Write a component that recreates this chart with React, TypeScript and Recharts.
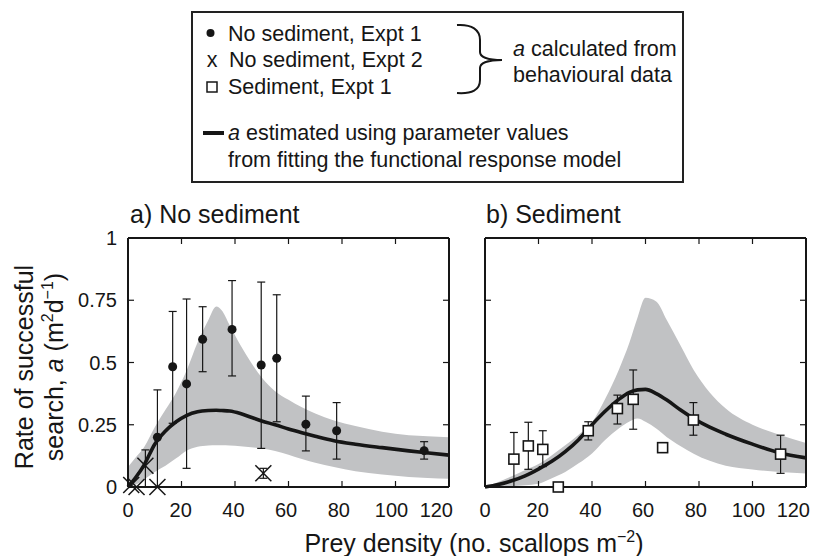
import React from "react";
import { ComposedChart, Area, Line, Scatter, ErrorBar, XAxis, YAxis } from "recharts";

const FONT = "'Liberation Sans', Arial, Helvetica, sans-serif";
const INK = "#161616";
const BAND = "#c1c2c4";

const X_TICKS = [0, 20, 40, 60, 80, 100, 120];
const Y_TICKS = [0, 0.25, 0.5, 0.75, 1];

// a) no sediment, expt 1 (filled circles)
const exp1X = [11, 16.7, 21.9, 27.9, 38.9, 49.8, 55.6, 66.5, 78, 110.7];
const exp1Y = [0.2, 0.483, 0.414, 0.593, 0.633, 0.49, 0.517, 0.252, 0.226, 0.146];
const exp1Lo = [0, 0.256, 0.075, 0.463, 0.446, 0.155, 0.262, 0.145, 0.112, 0.112];
const exp1Hi = [0.39, 0.705, 0.755, 0.724, 0.829, 0.823, 0.772, 0.365, 0.339, 0.182];

// a) no sediment, expt 2 (crosses)
const exp2X = [1.2, 3.2, 6.5, 11, 50.6];
const exp2Y = [0.008, 0, 0.085, 0, 0.055];
const exp2Lo = [null, null, 0, null, 0.035];
const exp2Hi = [null, null, 0.149, null, 0.075];

// b) sediment, expt 1 (open squares)
const sedX = [10.8, 16.2, 21.6, 27.4, 38.6, 49.5, 55.4, 66.4, 77.9, 110.5];
const sedY = [0.112, 0.165, 0.151, 0, 0.226, 0.315, 0.352, 0.158, 0.269, 0.132];
const sedLo = [0, 0.071, 0.082, null, 0.189, 0.253, 0.232, 0.15, 0.208, 0.055];
const sedHi = [0.219, 0.26, 0.226, null, 0.262, 0.369, 0.47, 0.178, 0.339, 0.208];

// fitted curve + envelope, panel a
const fitAX = [0, 3, 6, 10, 14, 18, 22, 26, 30, 33, 35, 38, 42, 46, 50, 55, 60, 65, 70, 77, 85, 95, 105, 112, 120];
const fitAY = [0, 0.04, 0.088, 0.172, 0.225, 0.262, 0.288, 0.302, 0.307, 0.308, 0.307, 0.305, 0.295, 0.28, 0.265, 0.25, 0.233, 0.218, 0.204, 0.186, 0.172, 0.158, 0.145, 0.137, 0.128];
const bandALo = [0, 0.01, 0.03, 0.06, 0.085, 0.115, 0.147, 0.162, 0.167, 0.168, 0.168, 0.167, 0.164, 0.16, 0.155, 0.145, 0.13, 0.112, 0.097, 0.08, 0.063, 0.05, 0.04, 0.036, 0.033];
const bandAHi = [0.08, 0.12, 0.16, 0.24, 0.31, 0.38, 0.47, 0.58, 0.67, 0.725, 0.71, 0.65, 0.57, 0.5, 0.44, 0.385, 0.35, 0.32, 0.295, 0.267, 0.245, 0.222, 0.208, 0.204, 0.2];

// fitted curve + envelope, panel b
const fitBX = [0, 5, 10, 15, 20, 25, 30, 35, 40, 45, 50, 54, 57, 60, 64, 68, 73, 78, 84, 90, 100, 110, 120];
const fitBY = [0, 0.01, 0.025, 0.045, 0.072, 0.103, 0.142, 0.19, 0.25, 0.305, 0.352, 0.38, 0.39, 0.392, 0.375, 0.349, 0.31, 0.275, 0.24, 0.212, 0.172, 0.138, 0.117];
const bandBLo = [0, 0.001, 0.003, 0.007, 0.013, 0.035, 0.06, 0.095, 0.135, 0.19, 0.235, 0.263, 0.275, 0.262, 0.235, 0.2, 0.165, 0.134, 0.105, 0.085, 0.07, 0.06, 0.054];
const bandBHi = [0, 0.02, 0.043, 0.068, 0.092, 0.128, 0.168, 0.21, 0.26, 0.355, 0.47, 0.58, 0.68, 0.76, 0.745, 0.67, 0.57, 0.47, 0.38, 0.315, 0.25, 0.21, 0.177];

type Num = number | null;

const pointRows = (xs: number[], ys: number[], lo: Num[], hi: Num[]) =>
  xs.map((x, i) => ({
    x,
    y: ys[i],
    err: lo[i] == null || hi[i] == null ? null : [ys[i] - (lo[i] as number), (hi[i] as number) - ys[i]],
  }));

const curveRows = (xs: number[], ys: number[]) => xs.map((x, i) => ({ x, y: ys[i] }));
const bandRows = (xs: number[], lo: number[], hi: number[]) => xs.map((x, i) => ({ x, range: [lo[i], hi[i]] }));

const Dot = ({ cx, cy }: any) => <circle cx={cx} cy={cy} r={4.5} fill={INK} />;
const Box = ({ cx, cy }: any) => (
  <rect x={cx - 5} y={cy - 5} width={10} height={10} fill="#fff" stroke={INK} strokeWidth={1.6} />
);
const Cross = ({ cx, cy }: any) => (
  <g stroke={INK} strokeWidth={1.5}>
    <line x1={cx - 8} y1={cy - 8} x2={cx + 8} y2={cy + 8} />
    <line x1={cx - 8} y1={cy + 8} x2={cx + 8} y2={cy - 8} />
  </g>
);

const TICK_LEN = 6;
const tickText = { fontFamily: FONT, fontSize: 20, fill: INK };

// the original squeezes the labels slightly left, the last one right-aligned
const bottomTick = (props: any) => {
  const v = props.payload.value;
  const last = v === 120;
  return (
    <g>
      <line x1={props.x} y1={props.y} x2={props.x} y2={props.y - TICK_LEN} stroke={INK} strokeWidth={1.2} />
      <text x={last ? props.x + 4 : props.x - v / 25} y={props.y + 30} textAnchor={last ? "end" : "middle"} {...tickText}>
        {v}
      </text>
    </g>
  );
};
const topTick = (props: any) => (
  <line x1={props.x} y1={props.y} x2={props.x} y2={props.y + TICK_LEN} stroke={INK} strokeWidth={1.2} />
);
const leftTick = (labels: boolean) => (props: any) => (
  <g>
    <line x1={props.x} y1={props.y} x2={props.x + TICK_LEN} y2={props.y} stroke={INK} strokeWidth={1.2} />
    {labels && (
      <text x={props.x - 11} y={props.y + 7} textAnchor="end" {...tickText}>
        {String(props.payload.value)}
      </text>
    )}
  </g>
);
const rightTick = (props: any) => (
  <line x1={props.x} y1={props.y} x2={props.x - TICK_LEN} y2={props.y} stroke={INK} strokeWidth={1.2} />
);

const frame = { stroke: INK, strokeWidth: 2 };

function Panel({
  width,
  margin,
  leftWidth,
  band,
  fit,
  points,
  shape,
  extra,
  yLabels,
}: {
  width: number;
  margin: { top: number; right: number; bottom: number; left: number };
  leftWidth: number;
  band: any[];
  fit: any[];
  points: any[];
  shape: any;
  extra?: any[];
  yLabels: boolean;
}) {
  return (
    <ComposedChart width={width} height={356} margin={margin}>
      <XAxis dataKey="x" type="number" domain={[0, 120]} ticks={X_TICKS} interval={0} height={30}
        tickSize={0} tickMargin={0} tickLine={false} axisLine={frame} tick={bottomTick} />
      <XAxis xAxisId="top" orientation="top" dataKey="x" type="number" domain={[0, 120]} ticks={X_TICKS}
        interval={0} height={8} tickSize={0} tickMargin={0} tickLine={false} axisLine={frame} tick={topTick} />
      <YAxis type="number" domain={[0, 1]} ticks={Y_TICKS} interval={0} width={leftWidth}
        tickSize={0} tickMargin={0} tickLine={false} axisLine={frame} tick={leftTick(yLabels)} />
      <YAxis yAxisId="right" orientation="right" type="number" domain={[0, 1]} ticks={Y_TICKS} interval={0}
        width={4} tickSize={0} tickMargin={0} tickLine={false} axisLine={frame} tick={rightTick} />
      <Area data={band} dataKey="range" type="monotone" stroke="none" fill={BAND} fillOpacity={1}
        xAxisId="top" isAnimationActive={false} />
      <Line data={fit} dataKey="y" type="monotone" stroke={INK} strokeWidth={3.6} dot={false}
        yAxisId="right" isAnimationActive={false} />
      {extra && (
        <Scatter data={extra} dataKey="y" shape={Cross} isAnimationActive={false}>
          <ErrorBar dataKey="err" direction="y" width={4} stroke={INK} strokeWidth={1.2} isAnimationActive={false} />
        </Scatter>
      )}
      <Scatter data={points} dataKey="y" shape={shape} isAnimationActive={false}>
        <ErrorBar dataKey="err" direction="y" width={4} stroke={INK} strokeWidth={1.2} isAnimationActive={false} />
      </Scatter>
    </ComposedChart>
  );
}

const label = { fontFamily: FONT, fontSize: 25, fill: INK };
const legendText = { fontFamily: FONT, fontSize: 21.5, fill: INK };

export default function App() {
  return (
    <div style={{ position: "absolute", left: 0, top: 0, width: 815, height: 556, background: "#fff" }}>
      <div style={{ position: "absolute", left: 0, top: 200 }}>
        <Panel
          width={475}
          margin={{ top: 30, right: 22, bottom: 39, left: 68 }}
          leftWidth={60}
          band={bandRows(fitAX, bandALo, bandAHi)}
          fit={curveRows(fitAX, fitAY)}
          points={pointRows(exp1X, exp1Y, exp1Lo, exp1Hi)}
          extra={pointRows(exp2X, exp2Y, exp2Lo, exp2Hi)}
          shape={Dot}
          yLabels
        />
      </div>
      <div style={{ position: "absolute", left: 460, top: 200 }}>
        <Panel
          width={355}
          margin={{ top: 30, right: 5, bottom: 39, left: 15 }}
          leftWidth={10}
          band={bandRows(fitBX, bandBLo, bandBHi)}
          fit={curveRows(fitBX, fitBY)}
          points={pointRows(sedX, sedY, sedLo, sedHi)}
          shape={Box}
          yLabels={false}
        />
      </div>
      <svg width={815} height={556} style={{ position: "absolute", left: 0, top: 0, pointerEvents: "none" }}>
        {/* legend */}
        <rect x={192} y={12} width={491} height={170} fill="none" stroke="#222" strokeWidth={2} />
        <circle cx={210.5} cy={33} r={4} fill={INK} />
        <text x={228} y={41} {...legendText}>No sediment, Expt 1</text>
        <text x={212} y={67} textAnchor="middle" {...legendText}>x</text>
        <text x={229} y={67} {...legendText}>No sediment, Expt 2</text>
        <rect x={207} y={82} width={10} height={10} fill="#fff" stroke={INK} strokeWidth={1.5} />
        <text x={228} y={94} {...legendText}>Sediment, Expt 1</text>
        <path d="M457,25 C472,24 480,30 480,40 L480,52 C480,57 488,60 502,60 C488,60 480,63 480,68 L480,80 C480,90 472,94 457,93"
          fill="none" stroke={INK} strokeWidth={2} />
        <text x={513} y={56} {...legendText}>
          <tspan fontStyle="italic">a</tspan> calculated from
        </text>
        <text x={513} y={82} {...legendText}>behavioural data</text>
        <line x1={203} y1={133} x2={224} y2={133} stroke={INK} strokeWidth={4} />
        <text x={228} y={140} {...legendText}>
          <tspan fontStyle="italic">a</tspan> estimated using parameter values
        </text>
        <text x={228} y={167} {...legendText}>from fitting the functional response model</text>

        {/* panel titles */}
        <text x={130} y={223} {...label}>a) No sediment</text>
        <text x={486} y={223} {...label}>b) Sediment</text>

        {/* y axis title */}
        <text x={33} y={367} textAnchor="middle" transform="rotate(-90 33 367)" {...label}>
          Rate of successful
        </text>
        <text x={63} y={367} textAnchor="middle" transform="rotate(-90 63 367)" {...label}>
          search, <tspan fontStyle="italic">a</tspan> (m<tspan fontSize={16} dy={-10}>2</tspan>
          <tspan dy={10}>d</tspan><tspan fontSize={16} dy={-10}>−1</tspan><tspan dy={10}>)</tspan>
        </text>

        {/* x axis title */}
        <text x={474} y={552} textAnchor="middle" {...label}>
          Prey density (no. scallops m<tspan fontSize={16} dy={-10}>−2</tspan><tspan dy={10}>)</tspan>
        </text>
      </svg>
    </div>
  );
}
